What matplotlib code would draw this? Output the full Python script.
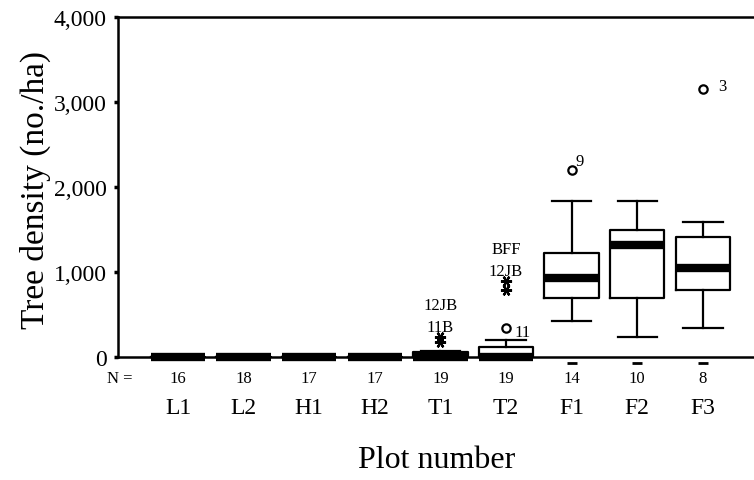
import matplotlib
matplotlib.use("Agg")
import matplotlib.pyplot as plt
import matplotlib.transforms as mtransforms

plt.rcParams["font.family"] = ["Liberation Serif", "DejaVu Serif"]

# Tree density per plot group (no./ha)
groups = ["L1", "L2", "H1", "H2", "T1", "T2", "F1", "F2", "F3"]
n_counts = [16, 18, 17, 17, 19, 19, 14, 10, 8]
medians = [0, 0, 0, 0, 0, 0, 926, 1314, 1047]
q1 = [0, 0, 0, 0, 0, 0, 690, 690, 788]
q3 = [0, 0, 0, 0, 55, 121, 1220, 1494, 1408]
whisker_lo = [0, 0, 0, 0, 0, 0, 427, 239, 345]
whisker_hi = [0, 0, 0, 0, 74, 200, 1839, 1839, 1588]

# Outliers (circles) and extremes (asterisks): group index, value, case label
outlier_group = [5, 6, 8]
outlier_value = [341, 2204, 3153]
outlier_label = ["11", "9", "3"]

extreme_group = [4, 4, 5, 5]
extreme_value = [235, 176, 900, 790]
extreme_label = ["12JB", "11B", "BFF", "12JB"]

yticks = [0, 1000, 2000, 3000, 4000]
ytick_labels = ["0", "1,000", "2,000", "3,000", "4,000"]

fig = plt.figure(figsize=(7.54, 4.81), dpi=100)
W, H = 754, 481
ax = fig.add_axes([118 / W, 1 - 358 / H, (W - 118) / W, (358 - 18) / H])

positions = list(range(1, len(groups) + 1))
stats = []
for i in range(len(groups)):
    stats.append(dict(med=medians[i], q1=q1[i], q3=q3[i],
                      whislo=whisker_lo[i], whishi=whisker_hi[i],
                      fliers=[], label=groups[i]))

box_lw = 1.6
ax.bxp(stats, positions=positions, widths=0.83, capwidths=0.6,
       showfliers=False, patch_artist=False,
       boxprops=dict(color="black", linewidth=box_lw),
       whiskerprops=dict(color="black", linewidth=box_lw),
       capprops=dict(color="black", linewidth=box_lw),
       medianprops=dict(color="black", linewidth=6.0, solid_capstyle="butt"),
       manage_ticks=False)
for art in ax.lines:
    art.set_clip_on(False)

# outliers
ox = [positions[g] for g in outlier_group]
ax.plot(ox, outlier_value, linestyle="none", marker="o", markersize=6,
        markerfacecolor="white", markeredgecolor="black", markeredgewidth=1.6,
        clip_on=False, zorder=5)
label_offsets = {"11": (6, -3), "9": (3, 6), "3": (11, 2)}
for g, v, lab in zip(outlier_group, outlier_value, outlier_label):
    dx, dy = label_offsets[lab]
    ax.annotate(lab, (positions[g], v), xytext=(dx, dy), textcoords="offset points",
                ha="left", va="center", fontsize=12)

# extremes
ex = [positions[g] for g in extreme_group]
ax.plot(ex, extreme_value, linestyle="none", marker=(6, 2, 90), markersize=8,
        markeredgecolor="black", markeredgewidth=1.6, clip_on=False, zorder=5)
# case labels stacked above each extreme cluster
stack = {}
for g, v, lab in zip(extreme_group, extreme_value, extreme_label):
    stack.setdefault(g, []).append((v, lab))
for g, items in stack.items():
    top = max(v for v, _ in items)
    ordered = sorted(items, key=lambda t: t[0])
    for k, (v, lab) in enumerate(ordered):
        ax.annotate(lab, (positions[g], top), xytext=(0, 7 + 16 * k),
                    textcoords="offset points", ha="center", va="center",
                    fontsize=12)

ax.set_xlim(0.085, 9.78)
ax.set_ylim(0, 4000)

ax.set_yticks(yticks)
ax.set_yticklabels(ytick_labels, fontsize=17)
ax.tick_params(axis="y", direction="out", length=3, width=2.5, pad=5)
ax.set_xticks([])

for side in ("left", "top", "bottom"):
    ax.spines[side].set_linewidth(1.8)
ax.spines["right"].set_visible(False)

# N row and group labels below the axis
trans = mtransforms.blended_transform_factory(ax.transData, ax.transAxes)
dash_trans = trans + mtransforms.ScaledTranslation(0, -4 / 72, fig.dpi_scale_trans)
for p, n, g in zip(positions, n_counts, groups):
    ax.annotate(str(n), (p, 0), xycoords=trans, xytext=(0, -15),
                textcoords="offset points", ha="center", va="center", fontsize=12)
    ax.annotate(g, (p, 0), xycoords=trans, xytext=(0, -36),
                textcoords="offset points", ha="center", va="center", fontsize=17)
    if medians[p - 1] > 0:
        ax.plot([p], [0], transform=dash_trans, marker="_", markersize=7,
                markeredgewidth=2, color="black", clip_on=False,
                linestyle="none")

ax.annotate("N =", (0, 0), xycoords="axes fraction", xytext=(1, -15),
            textcoords="offset points", ha="center", va="center", fontsize=12)

fig.text(437 / W, 1 - 460 / H, "Plot number", ha="center", va="center", fontsize=23)
fig.text(35 / W, 1 - 190 / H, "Tree density (no./ha)", ha="center", va="center",
         rotation=90, fontsize=24)

fig.savefig("out.png", dpi=100)
